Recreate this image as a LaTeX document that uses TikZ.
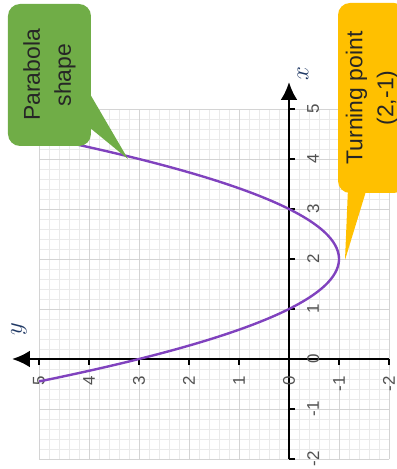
\documentclass[tikz,border=0pt]{standalone}
\usepackage{fontspec}
\setmainfont{Liberation Sans}
\usetikzlibrary{arrows.meta}
\definecolor{gridminor}{RGB}{234,234,234}
\definecolor{gridmajor}{RGB}{212,212,212}
\definecolor{curvepurple}{RGB}{128,66,190}
\definecolor{calloutgreen}{RGB}{112,173,71}
\definecolor{calloutyellow}{RGB}{255,192,0}
\definecolor{ticktext}{RGB}{80,80,80}
\definecolor{axisname}{RGB}{31,56,100}

\begin{document}
\begin{tikzpicture}[x=50bp, y=50bp,
    ticklab/.style={rotate=90, text=ticktext, inner sep=0pt, font=\fontsize{17}{17}\selectfont},
    callout/.style={rotate=90, rounded corners=12bp, align=center, text=black!85, font=\fontsize{23}{31}\selectfont}]
    % page frame
    \clip (-5.78,-2.2) rectangle (2.16,7.18);

    \begin{scope}[rotate=90]
        % Grid
        \draw[gridminor, line width=0.6bp] (-2,-2) grid[step=0.2] (5,5);
        \draw[gridmajor, line width=0.9bp] (-2,-2) grid[step=1] (5,5);

        % Axes
        \coordinate (xstart) at (-2,0);
        \coordinate (xend)   at (5.54,0);
        \coordinate (ystart) at (0,-2);
        \coordinate (yend)   at (0,5.54);
        \draw[line width=2.6bp, -{Latex[length=18bp,width=17bp]}] (xstart) -- (xend);
        \draw[line width=2.6bp, -{Latex[length=18bp,width=17bp]}] (ystart) -- (yend);
        \node[rotate=90, text=axisname, font=\fontsize{27}{27}\selectfont] (xname) at (5.7,-0.28) {$x$};
        \node[rotate=90, text=axisname, font=\fontsize{27}{27}\selectfont] (yname) at (0.6,5.4) {$y$};

        % Ticks
        \foreach \t in {-2,-1,1,2,3,4,5} {
            \draw[line width=1.5bp] (\t,0) -- (\t,-0.12);
            \draw[line width=1.5bp] (0,\t) -- (-0.12,\t);
        }

        % Tick labels
        \foreach \t [count=\i] in {-2,...,5} {
            \node[ticklab, anchor=north] (xtick\i) at (\t,-0.36) {\t};
            \node[ticklab, anchor=east]  (ytick\i) at (-0.34,\t) {\t};
        }

        % Parabola
        \draw[curvepurple, line width=2.4bp] plot[domain=-0.449:4.449, samples=80, smooth] (\x, {(\x-2)^2-1});
    \end{scope}

    % Parabola shape callout
    \coordinate (shapetip) at (-3.22,4.0);
    \fill[calloutgreen] (-4.05,5.42) -- (shapetip) -- (-4.05,4.68) -- cycle;
    \node[callout, fill=calloutgreen, minimum width=142bp, minimum height=83bp] (shapebox) at (-4.79,5.68) {Parabola\\shape};

    % Turning point callout
    \coordinate (turntip) at (1.12,1.98);
    \fill[calloutyellow] (1.18,3.42) -- (turntip) -- (1.56,3.42) -- cycle;
    \node[callout, fill=calloutyellow, minimum width=190bp, minimum height=68bp] (turnbox) at (1.66,5.22) {Turning point\\(2,-1)};
\end{tikzpicture}
\end{document}
